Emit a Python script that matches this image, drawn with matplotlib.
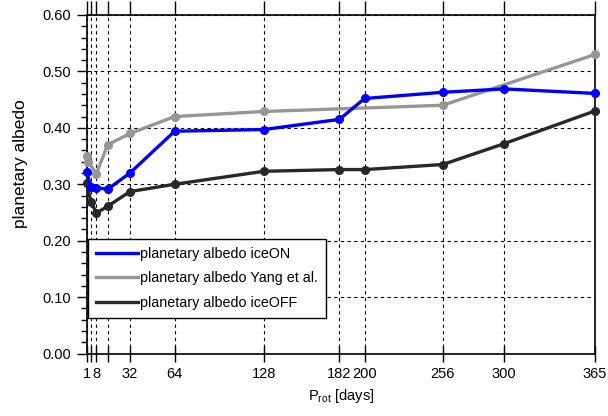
import matplotlib.pyplot as plt
import numpy as np

plt.rcParams['font.family'] = ['Liberation Sans', 'DejaVu Sans']
plt.rcParams['mathtext.fontset'] = 'custom'
plt.rcParams['mathtext.rm'] = 'Liberation Sans'

# rotation periods used in the runs
prot = [1, 4, 8, 16, 32, 64, 128, 182, 200, 256, 300, 365]
albedo_ice_on = [0.321, 0.296, 0.294, 0.291, 0.320, 0.394, 0.397, 0.415, 0.452, 0.463, 0.469, 0.461]
albedo_ice_off = [0.302, 0.269, 0.249, 0.261, 0.287, 0.300, 0.323, 0.326, 0.326, 0.335, 0.372, 0.430]

# Yang et al. comparison
prot_yang = [1, 2, 8, 16, 32, 64, 128, 256, 365]
albedo_yang = [0.350, 0.340, 0.319, 0.370, 0.390, 0.420, 0.429, 0.440, 0.530]

xticks = [1, 4, 8, 16, 32, 64, 128, 182, 200, 256, 300, 365]
xticklabels = ['1', '', '8', '', '32', '64', '128', '182', '200', '256', '300', '365']
yticks = [0.0, 0.1, 0.2, 0.3, 0.4, 0.5, 0.6]

fig = plt.figure(figsize=(6.08, 4.16), dpi=100)
ax = fig.add_axes([86.7 / 608, 1 - 353.5 / 416, (595 - 86.7) / 608, (353.5 - 15) / 416])

ax.plot(prot, albedo_ice_on, color='#0000ff', lw=2.4, marker='o', ms=5.5,
        label='planetary albedo iceON', zorder=4, clip_on=False)
ax.plot(prot_yang, albedo_yang, color='#969696', lw=2.4, marker='o', ms=5.5,
        label='planetary albedo Yang et al.', zorder=3, clip_on=False)
ax.plot(prot, albedo_ice_off, color='#282828', lw=2.4, marker='o', ms=5.5,
        label='planetary albedo iceOFF', zorder=3, clip_on=False)

ax.set_xlim(1, 365)
ax.set_ylim(0, 0.6)
ax.set_xticks(xticks)
ax.set_xticklabels(xticklabels, fontsize=10.5)
ax.set_yticks(yticks)
ax.set_yticklabels(['%.2f' % v for v in yticks], fontsize=10.5)
ax.set_yticks(np.arange(0, 0.61, 0.02), minor=True)

ax.tick_params(axis='y', which='major', direction='out', length=7, width=1, pad=4)
ax.tick_params(axis='y', which='minor', direction='out', length=4, width=1)
ax.tick_params(axis='x', which='major', direction='inout', length=12, width=1, pad=4)
ax.tick_params(axis='x', which='minor', bottom=False)

ax.grid(True, which='major', color='black', linestyle=(0, (3, 3)), lw=0.8)

for s in ax.spines.values():
    s.set_linewidth(1.2)

# top ticks, outward
sec = ax.secondary_xaxis('top')
sec.set_xticks(xticks)
sec.set_xticklabels([])
sec.tick_params(direction='out', length=10, width=1)
sec.spines['top'].set_visible(False)

ax.set_xlabel(r'P$_{\mathrm{rot}}$ [days]', fontsize=10.5, labelpad=4)
ax.set_ylabel('planetary albedo', fontsize=12.5)
ax.yaxis.set_label_coords(-0.115, 0.56)

leg = ax.legend(loc='lower left', bbox_to_anchor=(0.003, 0.105), fontsize=10.3,
                frameon=True, fancybox=False, edgecolor='black', framealpha=1,
                handlelength=2.9, handletextpad=0.2, borderpad=0.55,
                labelspacing=0.75, borderaxespad=0)
leg.get_frame().set_linewidth(1.0)
for h in leg.get_lines():
    h.set_marker('')

fig.savefig('out.png', dpi=100)
